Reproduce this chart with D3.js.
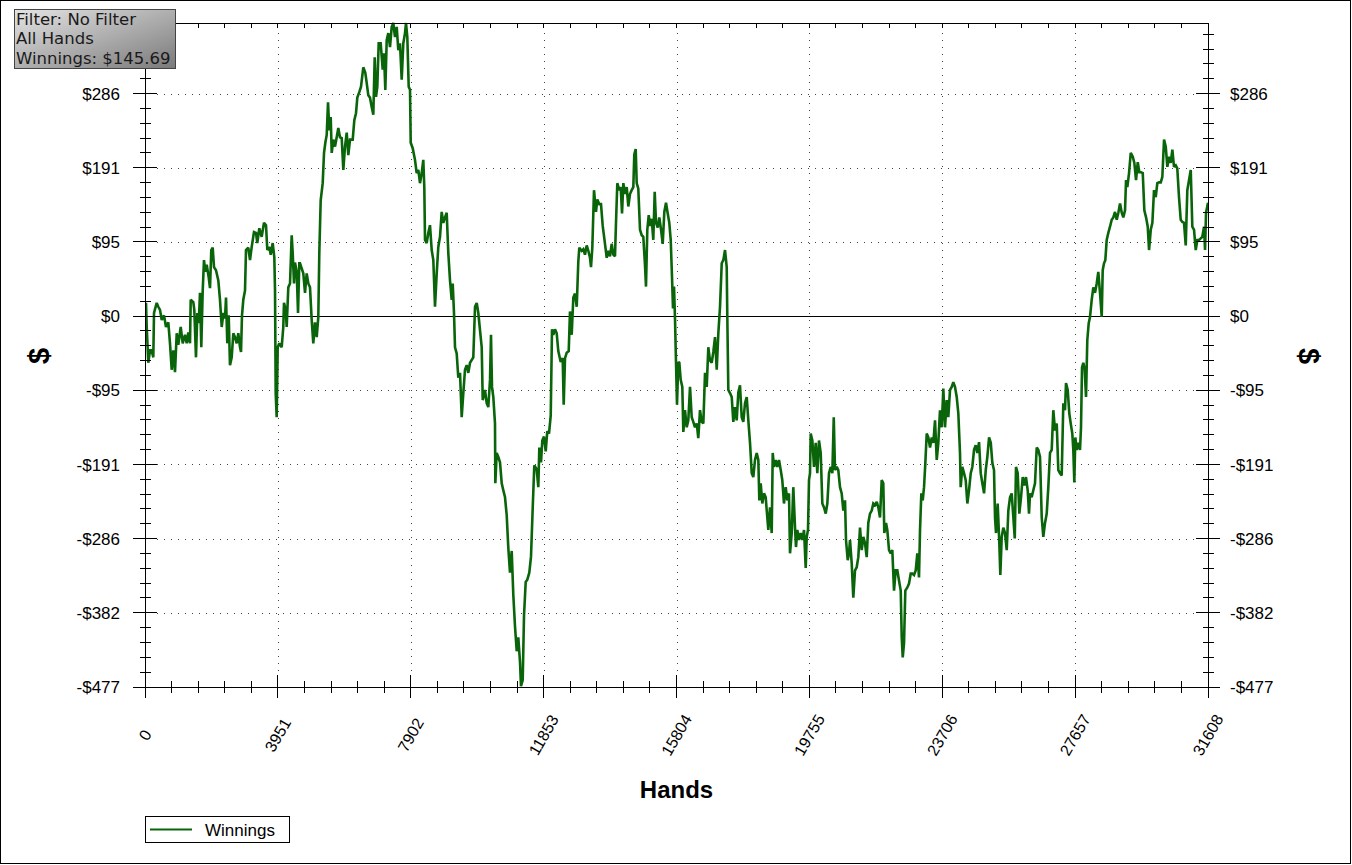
<!DOCTYPE html>
<html>
<head>
<meta charset="utf-8">
<script src="https://cdn.jsdelivr.net/npm/d3@7"></script>
<style>
  body { margin: 0; background: #fff; }
  svg { display: block; }
</style>
</head>
<body>
<svg id="chart"></svg>
<script>
// axis ticks and labels
const xTicks = [0, 3951, 7902, 11853, 15804, 19755, 23706, 27657, 31608];
const yTicks = [-477, -381.6, -286.2, -190.8, -95.4, 0, 95.4, 190.8, 286.2];
const yTickLabels = ['-$477', '-$382', '-$286', '-$191', '-$95', '$0', '$95', '$191', '$286'];
const yMin = -477, yMax = 377;
const infoLines = ['Filter: No Filter', 'All Hands', 'Winnings: $145.69'];
const seriesName = 'Winnings';

// hand number for each sampled point
const hands = [
  0,30,51,98,149,199,247,268,348,395,
  446,497,565,624,693,743,794,842,892,943,
  990,1062,1121,1189,1240,1288,1338,1359,1436,1466,
  1516,1556,1599,1635,1674,1716,1754,1793,1835,1894,
  1933,1971,2013,2052,2111,2180,2230,2281,2331,2379,
  2409,2447,2489,2527,2578,2626,2676,2727,2774,2825,
  2855,2884,2923,2974,3003,3072,3122,3173,3241,3301,
  3339,3399,3470,3538,3598,3637,3696,3738,3797,3845,
  3866,3886,3916,3946,3993,4065,4112,4133,4184,4213,
  4261,4312,4362,4392,4431,4460,4511,4550,4588,
  4609,4707,4758,4808,4856,4906,4957,5004,5055,5106,
  5153,5183,5224,5284,5323,5362,5403,5442,5481,5522,
  5552,5599,5650,5700,5748,5798,5849,5897,5947,5998,
  6045,6096,6176,6224,6274,6313,6372,6423,6491,6551,
  6592,6640,6690,6741,6789,6830,6869,6908,6949,7008,
  7068,7107,7146,7187,7235,7285,7336,7383,7434,7484,
  7532,7582,7633,7681,7731,7761,7800,7841,7880,7901,
  7960,8028,8078,8127,8177,8228,8275,8305,8326,8376,
  8424,8474,8525,8573,8623,8674,8721,8772,8822,8870,
  8921,8971,9019,9069,9120,9150,9188,9218,9268,9316,
  9367,9417,9465,9515,9566,9614,9664,9762,9813,9864,
  9911,9961,10012,10042,10110,10160,10208,10259,10288,10318,
  10357,10407,
  10417,10457,10506,10556,10607,10654,10705,10755,10803,10853,
  10904,10951,11002,11053,11100,11151,11180,11231,11270,11320,
  11368,11427,11478,11528,11576,11647,11695,11725,11775,11814,
  11864,11915,11962,12013,12064,12102,12141,12191,12242,12289,
  12361,12420,12450,12489,12540,12599,12637,12688,12736,12786,
  12837,12884,12914,12985,13033,13083,13134,13182,13232,13262,
  13301,13351,13410,13449,13509,13559,13610,13678,13729,13776,
  13827,13877,13925,13975,14005,14044,14103,14145,14184,14223,
  14273,14324,14371,14421,14472,14520,14549,14591,14621,14668,
  14719,14770,14817,14868,14897,14936,14978,15016,15067,15114,
  15156,15195,15245,15293,15345,15394,15442,15492,15543,15590,
  15632,15670,15700,15730,15760,15789,15819,15858,
  15888,15929,15977,16007,16057,16108,16155,16206,16256,16304,
  16354,16405,16452,16503,16554,16602,16652,16703,16750,16800,
  16851,16899,16949,17000,17048,17098,17149,17196,17247,17297,
  17315,17345,17395,17446,17493,17544,17594,17642,17692,17743,
  17791,17841,17892,17940,17990,18041,18088,18138,18189,18237,
  18267,18308,18356,18406,18457,18487,18534,18584,18635,18665,
  18703,18754,18802,18852,18903,18950,19000,19051,19099,19149,
  19179,19230,19277,19328,19357,19396,19447,19497,19545,19596,
  19646,19676,19714,19744,19774,19794,19843,19893,19943,19991,
  20041,20092,20140,20190,20241,20289,20339,20390,20438,20480,
  20517,20568,20615,20666,20716,20764,20815,20844,20895,20933,
  20963,21014,21061,21112,21162,21210,21261,
  21311,21360,21409,21460,21507,21558,21609,21656,21707,21758,
  21805,21855,21906,21953,21983,22034,22072,22123,22174,22221,
  22272,22322,22370,22420,22471,22501,22531,22569,22608,22668,
  22718,22769,22816,22866,22917,22965,23015,23045,23084,23125,
  23164,23203,23244,23292,23343,23393,23441,23491,23542,23589,
  23639,23690,23738,23788,23839,23886,23937,23988,24035,24085,
  24136,24184,24234,24254,24303,24353,24404,24452,24502,24553,
  24600,24651,24701,24749,24800,24850,24898,24949,24999,25047,
  25098,25149,25196,25245,25275,25305,25354,25403,25433,25474,
  25522,25572,25623,25671,25721,25771,25820,25862,25899,25950,
  25998,26048,26099,26146,26196,26247,26286,
  26316,26366,26414,26464,26515,26562,26613,26664,26711,26762,
  26812,26860,26910,26961,27008,27059,27110,27157,27208,27258,
  27306,27356,27386,27436,27484,27526,27573,27603,27633,27663,
  27703,27752,27802,27832,27862,27901,27942,27981,28019,28061,
  28100,28150,28198,28248,28299,28346,28397,28448,28477,28516,
  28555,28596,28644,28694,28745,28793,28843,28894,28942,28992,
  29043,29090,29141,29171,29209,29260,29311,29371,29418,29468,
  29519,29566,29617,29668,29715,29766,29816,29855,29906,29954,
  30003,30054,30101,30152,30203,30250,30301,30352,30399,30449,
  30500,30548,30597,30648,30695,30746,30797,30845,30895,30946,
  30993,31044,31095,31142,31193,31243,31291,31342,31392,31439,
  31490,31520,31550,31608
];

// cumulative winnings in $ at each sampled hand
const winnings = [
  0,17,-14,-60,-44,-44,-53,4,17,12,
  8,-5,1,-14,-8,-35,-69,-44,-72,-22,
  -37,-14,-35,-24,-35,-21,-35,21,18,8,
  -53,4,-9,30,-40,33,72,57,66,50,
  36,85,88,63,59,46,21,-14,4,-3,
  24,-35,1,-63,-53,-22,-27,-35,-22,-40,
  -46,1,21,33,85,88,72,89,108,107,
  94,113,102,120,117,85,89,79,94,76,
  33,-99,-130,-40,-35,-40,-14,17,8,-14,
  37,42,104,81,42,69,57,4,68,
  68,55,30,55,42,37,-5,-35,-8,-27,
  -1,81,149,171,210,223,233,275,239,256,
  210,227,218,230,242,230,229,188,218,236,
  207,227,227,252,261,281,288,295,320,313,
  300,284,281,269,259,333,282,295,351,351,
  317,338,291,355,364,346,372,377,359,372,
  342,351,304,351,364,377,359,295,291,223,
  216,201,184,188,171,184,201,166,98,94,
  107,117,85,72,12,55,89,102,134,120,
  127,133,81,46,21,42,4,-40,-48,-79,
  -73,-130,-99,-69,-63,-73,-60,-53,12,17,
  4,-18,-40,-108,-95,-112,-117,-82,-24,-91,
  -104,-138,
  -215,-176,-181,-188,-215,-224,-233,-256,-298,-330,
  -302,-358,-399,-431,-413,-445,-476,-468,-385,-342,
  -339,-330,-309,-247,-192,-197,-220,-169,-188,-160,
  -155,-174,-148,-151,-128,-17,-24,-17,-22,-45,
  -59,-54,-114,-54,-47,-45,6,-24,24,29,
  12,70,88,84,86,79,91,84,75,63,
  88,162,134,150,144,144,116,93,75,84,
  77,93,79,77,120,171,162,166,132,171,
  157,166,141,157,162,166,208,215,171,164,
  111,104,102,65,38,111,130,116,125,98,
  160,120,114,127,111,93,134,146,132,120,
  98,51,10,38,-4,-59,-114,-59,
  -60,-82,-91,-149,-121,-143,-134,-91,-130,-136,
  -143,-138,-157,-121,-136,-138,-73,-91,-40,-57,
  -60,-46,-27,-69,-22,12,68,72,85,63,
  -1,-95,-99,-104,-136,-117,-134,-98,-89,-130,
  -136,-112,-104,-134,-163,-202,-207,-185,-176,-185,
  -237,-215,-241,-228,-233,-250,-275,-246,-279,-176,
  -194,-185,-194,-185,-198,-211,-241,-220,-237,-228,
  -305,-279,-220,-272,-297,-275,-288,-279,-288,-275,
  -324,-284,-275,-211,-202,-151,-160,-194,-163,-202,
  -160,-176,-241,-246,-254,-241,-202,-194,-202,-130,
  -198,-194,-198,-220,-228,-250,-237,-288,-314,-305,
  -288,-318,-362,-327,-323,-310,-272,
  -301,-284,-292,-310,-266,-254,-250,-241,-243,-239,
  -246,-259,-211,-215,-279,-266,-275,-301,-305,-301,
  -353,-327,-327,-340,-353,-413,-439,-421,-353,-349,
  -344,-331,-331,-333,-327,-305,-336,-275,-228,-237,
  -220,-189,-151,-156,-169,-156,-163,-134,-185,-163,
  -121,-143,-93,-143,-108,-130,-95,-91,-85,-91,
  -104,-125,-176,-220,-194,-202,-211,-241,-224,-202,
  -194,-172,-166,-176,-162,-202,-215,-228,-198,-181,
  -156,-163,-189,-198,-259,-279,-241,-292,-333,-284,
  -272,-279,-301,-250,-233,-228,-259,-286,-194,-202,
  -254,-233,-207,-218,-207,-224,-254,
  -228,-233,-224,-215,-169,-172,-181,-259,-284,-266,
  -254,-220,-176,-172,-121,-147,-138,-198,-202,-205,
  -112,-121,-86,-95,-125,-138,-151,-172,-214,-156,
  -172,-163,-172,-143,-66,-60,-69,-104,-31,-9,
  -1,21,37,30,42,57,30,-1,59,68,
  72,98,107,115,124,127,134,124,133,145,
  133,127,136,175,166,184,210,205,197,175,
  198,185,185,184,136,127,115,85,111,120,
  162,153,171,172,172,179,227,218,192,205,
  197,214,192,194,190,153,124,121,120,91,
  162,175,188,115,111,85,98,98,100,102,
  115,85,133,145.69
];

const width = 1352;
const height = 865;
const plot = { left: 145, right: 1208, top: 23, bottom: 687 };
const lineColor = '#0a650a';
const labelFont = '"Liberation Sans", Arial, sans-serif';

const svg = d3.select('#chart')
  .attr('width', width)
  .attr('height', height)
  .style('font-family', labelFont);

const x = d3.scaleLinear()
  .domain([xTicks[0], xTicks[xTicks.length - 1]])
  .range([plot.left, plot.right]);

const y = d3.scaleLinear()
  .domain([yMin, yMax])
  .range([plot.bottom, plot.top]);

// minor tick positions: 5 steps between majors
const xStep = (xTicks[1] - xTicks[0]) / 5;
const xMinor = d3.range(0, 41).map(i => xTicks[0] + i * xStep);
const yStep = (yTicks[1] - yTicks[0]) / 5;
const yMinor = d3.range(0, 60).map(i => yMin + i * yStep).filter(v => v <= yMax + 0.01);

// outer frame
svg.append('rect')
  .attr('x', 0.5).attr('y', 0.5)
  .attr('width', width - 2).attr('height', height - 2)
  .attr('fill', '#fff').attr('stroke', '#000');

// dotted grid
const grid = svg.append('g').attr('stroke', '#444').attr('stroke-dasharray', '1,6');
grid.selectAll('line.v')
  .data(xTicks.slice(1, -1))
  .enter().append('line')
  .attr('x1', d => Math.round(x(d)) + 0.5).attr('x2', d => Math.round(x(d)) + 0.5)
  .attr('y1', plot.top + 10).attr('y2', plot.bottom - 12);
grid.selectAll('line.h')
  .data(yTicks.filter(d => d !== 0 && d !== yMin))
  .enter().append('line')
  .attr('y1', d => Math.round(y(d)) + 0.5).attr('y2', d => Math.round(y(d)) + 0.5)
  .attr('x1', plot.left + 12).attr('x2', plot.right - 12);

// zero line
svg.append('line')
  .attr('x1', plot.left).attr('x2', plot.right)
  .attr('y1', Math.round(y(0)) + 0.5).attr('y2', Math.round(y(0)) + 0.5)
  .attr('stroke', '#000');

// winnings line
svg.append('clipPath').attr('id', 'plotclip')
  .append('rect')
  .attr('x', plot.left).attr('y', plot.top - 1)
  .attr('width', plot.right - plot.left).attr('height', plot.bottom - plot.top + 2);

const n = Math.min(hands.length, winnings.length);
const line = d3.line()
  .x(i => x(hands[i]))
  .y(i => y(winnings[i]));

svg.append('path')
  .attr('clip-path', 'url(#plotclip)')
  .attr('d', line(d3.range(n)))
  .attr('fill', 'none')
  .attr('stroke', lineColor)
  .attr('stroke-width', 2.6)
  .attr('stroke-linejoin', 'miter')
  .attr('stroke-miterlimit', 2);

// axes frame and ticks
const axes = svg.append('g').attr('stroke', '#000').attr('shape-rendering', 'crispEdges');
axes.append('line').attr('x1', plot.left).attr('x2', plot.left).attr('y1', plot.top).attr('y2', plot.bottom);
axes.append('line').attr('x1', plot.right).attr('x2', plot.right).attr('y1', plot.top).attr('y2', plot.bottom);
axes.append('line').attr('x1', plot.left).attr('x2', plot.right).attr('y1', plot.top).attr('y2', plot.top);
axes.append('line').attr('x1', plot.left).attr('x2', plot.right).attr('y1', plot.bottom).attr('y2', plot.bottom);

const isMajorX = v => xTicks.some(t => Math.abs(t - v) < 1);
const isMajorY = v => yTicks.some(t => Math.abs(t - v) < 0.5);

// bottom ticks cross the axis, top ticks point inward
axes.selectAll('line.bx')
  .data(xMinor)
  .enter().append('line')
  .attr('x1', d => x(d)).attr('x2', d => x(d))
  .attr('y1', d => plot.bottom - (isMajorX(d) ? 12 : 6))
  .attr('y2', d => plot.bottom + (isMajorX(d) ? 11 : 6));
axes.selectAll('line.tx')
  .data(xMinor)
  .enter().append('line')
  .attr('x1', d => x(d)).attr('x2', d => x(d))
  .attr('y1', plot.top).attr('y2', plot.top + 5);

// left and right ticks cross the axis
[plot.left, plot.right].forEach(ax => {
  axes.selectAll(null)
    .data(yMinor)
    .enter().append('line')
    .attr('y1', d => y(d)).attr('y2', d => y(d))
    .attr('x1', d => ax - (isMajorY(d) ? 12 : 5))
    .attr('x2', d => ax + (isMajorY(d) ? 12 : 6));
});

// y tick labels on both sides
const yLabelG = svg.append('g').style('font-size', '17px').attr('fill', '#000');
yLabelG.selectAll('text.l')
  .data(yTicks)
  .enter().append('text')
  .attr('x', plot.left - 25)
  .attr('y', d => y(d))
  .attr('dy', '0.36em')
  .attr('text-anchor', 'end')
  .text((d, i) => yTickLabels[i]);
yLabelG.selectAll('text.r')
  .data(yTicks)
  .enter().append('text')
  .attr('x', plot.right + 22)
  .attr('y', d => y(d))
  .attr('dy', '0.36em')
  .attr('text-anchor', 'start')
  .text((d, i) => yTickLabels[i]);

// x tick labels, rotated
svg.append('g').style('font-size', '16px')
  .selectAll('text')
  .data(xTicks)
  .enter().append('text')
  .attr('transform', d => `translate(${x(d)},${plot.bottom + 48}) rotate(-60)`)
  .attr('text-anchor', 'middle')
  .attr('dy', '0.35em')
  .text(d => d);

// axis titles
svg.append('text')
  .attr('x', (plot.left + plot.right) / 2)
  .attr('y', plot.bottom + 111)
  .attr('text-anchor', 'middle')
  .style('font-size', '24px').style('font-weight', 'bold')
  .text('Hands');

[[39, -90], [1309, 90]].forEach(([cx, rot]) => {
  svg.append('text')
    .attr('transform', `translate(${cx},${(plot.top + plot.bottom) / 2 + 1}) rotate(${rot})`)
    .attr('text-anchor', 'middle')
    .attr('dy', '0.35em')
    .style('font-size', '29px').style('font-weight', 'bold')
    .text('$');
});

// legend
const legend = svg.append('g');
legend.append('rect')
  .attr('x', 145.5).attr('y', 816.5).attr('width', 144).attr('height', 26)
  .attr('fill', '#fff').attr('stroke', '#000');
legend.append('line')
  .attr('x1', 150).attr('x2', 192).attr('y1', 829.5).attr('y2', 829.5)
  .attr('stroke', lineColor).attr('stroke-width', 2);
legend.append('text')
  .attr('x', 205).attr('y', 829.5).attr('dy', '0.36em')
  .style('font-size', '17px')
  .text(seriesName);

// info box in the corner
const defs = svg.append('defs');
const grad = defs.append('linearGradient').attr('id', 'infograd')
  .attr('x1', '0%').attr('y1', '0%').attr('x2', '100%').attr('y2', '100%');
grad.append('stop').attr('offset', '0%').attr('stop-color', '#e4e4e4');
grad.append('stop').attr('offset', '100%').attr('stop-color', '#7a7a7a');

const info = svg.append('g');
info.append('rect')
  .attr('x', 14.5).attr('y', 9.5).attr('width', 161).attr('height', 59)
  .attr('fill', 'url(#infograd)').attr('stroke', '#444');
info.selectAll('text')
  .data(infoLines)
  .enter().append('text')
  .attr('x', 16)
  .attr('y', (d, i) => 25 + i * 19.3)
  .style('font-family', '"DejaVu Sans", Verdana, sans-serif')
  .style('font-size', '16.5px')
  .attr('fill', '#1a1a1a')
  .text(d => d);
</script>
</body>
</html>
